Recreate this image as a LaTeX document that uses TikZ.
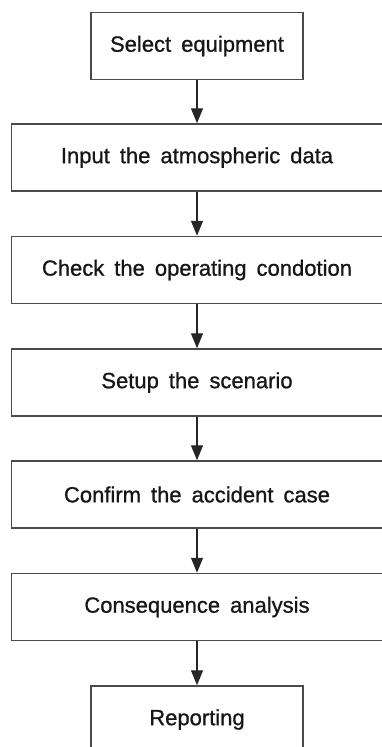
\documentclass[tikz,border=0pt]{standalone}
\usepackage{fontspec}
\setmainfont{Liberation Sans}
\newfontfamily\boxface{Liberation Sans}[FakeBold=0.9]
\usetikzlibrary{arrows.meta}
\definecolor{linegray}{HTML}{4A4A4A}
\definecolor{txt}{HTML}{161616}
\newcommand{\myboxfont}{\boxface\fontsize{22}{26}\selectfont\spaceskip=10pt plus 1pt minus 1pt\relax}
\tikzset{
  stepbox/.style={draw=linegray, line width=1.5pt, rectangle, inner sep=0pt,
    minimum height=67pt, text=txt, font=\myboxfont},
  narrowbox/.style={stepbox, minimum width=212pt},
  widebox/.style={stepbox, minimum width=371.5pt},
  flow/.style={draw=black!85, line width=1.3pt, -{Triangle[length=15pt,width=12pt]}}
}
\begin{document}
\begin{tikzpicture}[x=1pt,y=1pt]
\useasboundingbox (0,0) rectangle (381,-747);
\node[narrowbox] (n1) at (197,-46) {Select equipment};
\node[widebox] (n2) at (197,-157.5) {Input the atmospheric data};
\node[widebox] (n3) at (197,-270) {Check the operating condotion};
\node[widebox] (n4) at (197,-382.5) {Setup the scenario};
\node[widebox] (n5) at (197,-494.5) {Confirm the accident case};
\node[widebox] (n6) at (197,-607) {Consequence analysis};
\node[narrowbox] (n7) at (197,-719.5) {Reporting};
\foreach \a/\b in {n1/n2,n2/n3,n3/n4,n4/n5,n5/n6,n6/n7}
  \draw[flow] (\a.south) -- (\b.north);
\end{tikzpicture}
\end{document}
